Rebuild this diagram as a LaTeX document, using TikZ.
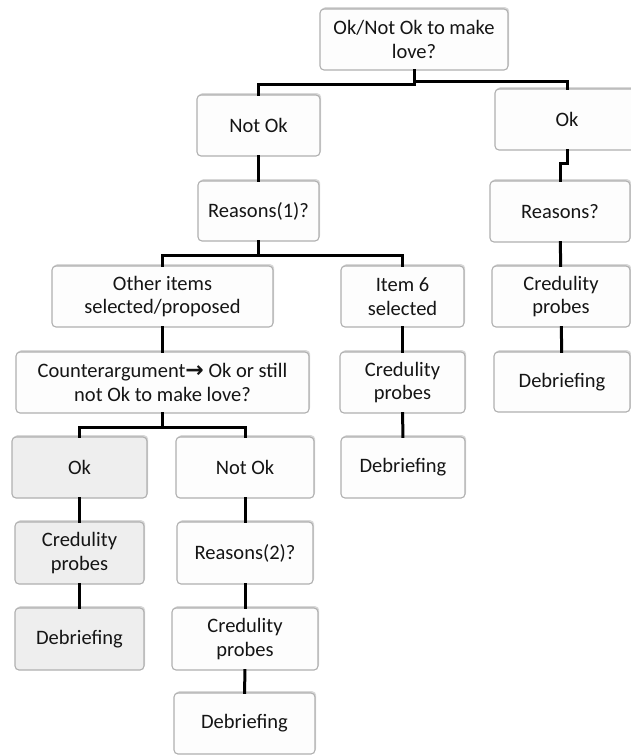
\documentclass[tikz,border=0pt]{standalone}
\usepackage{fontspec}
\setmainfont{Carlito}
\newfontfamily\arrowfont{DejaVu Sans}
\usetikzlibrary{shadows}
\definecolor{boxline}{HTML}{B0B0B0}
\definecolor{boxfill}{HTML}{FDFDFD}
\definecolor{grayfill}{HTML}{EEEEEE}
\definecolor{txt}{HTML}{151515}
\tikzset{
  box/.style={draw=boxline, line width=1.1pt, fill=boxfill, rounded corners=4pt,
    inner sep=0pt, align=center, text=txt,
    font=\fontsize{20.5pt}{23.5pt}\selectfont,
    drop shadow={opacity=0.3, shadow xshift=1.2pt, shadow yshift=1.8pt}},
  graybox/.style={box, fill=grayfill},
  link/.style={line width=3pt, black, line cap=rect}
}
\begin{document}
\begin{tikzpicture}[x=1pt,y=-1pt]
\useasboundingbox (0,0) rectangle (631,755);
\fill[white] (0,0) rectangle (631,755);
% nodes
\node[box, minimum width=188pt, minimum height=61pt] (top) at (414,39.5) {Ok/Not Ok to make\\love?};
\node[box, minimum width=123pt, minimum height=61pt] (notok1) at (258.5,125.5) {Not Ok};
\node[box, minimum width=144pt, minimum height=61pt] (ok1) at (567,119.5) {Ok};
\node[box, minimum width=121pt, minimum height=60pt] (rsn1) at (258.5,211) {Reasons(1)?};
\node[box, minimum width=140pt, minimum height=61pt] (rsnR) at (560,211.5) {Reasons?};
\node[box, minimum width=221pt, minimum height=61pt] (other) at (162.5,296.5) {Other items\\selected/proposed};
\node[box, minimum width=123pt, minimum height=61pt] (item6) at (402.5,296.5) {Item 6\\selected};
\node[box, minimum width=138pt, minimum height=61pt] (credR) at (561,296.5) {Credulity\\probes};
\node[box, minimum width=293pt, minimum height=61pt] (counter) at (162.5,382.5) {Counterargument{\arrowfont\bfseries\fontsize{22pt}{23.5pt}\selectfont →} Ok or still\\not Ok to make love?};
\node[box, minimum width=125pt, minimum height=61pt] (credM) at (402.5,382.5) {Credulity\\probes};
\node[box, minimum width=136pt, minimum height=60pt] (debR) at (562,382) {Debriefing};
\node[graybox, minimum width=135pt, minimum height=61pt] (okG) at (79.5,467.5) {Ok};
\node[box, minimum width=138pt, minimum height=61pt] (notok2) at (245,467.5) {Not Ok};
\node[box, minimum width=124pt, minimum height=61pt] (debM) at (403,467.5) {Debriefing};
\node[graybox, minimum width=129pt, minimum height=62pt] (credG) at (79.5,553) {Credulity\\probes};
\node[box, minimum width=136pt, minimum height=62pt] (rsn2) at (245,553) {Reasons(2)?};
\node[graybox, minimum width=129pt, minimum height=62pt] (debG) at (79.5,639) {Debriefing};
\node[box, minimum width=146pt, minimum height=62pt] (credB) at (245,639) {Credulity\\probes};
\node[box, minimum width=141pt, minimum height=61pt] (debB) at (244.5,723.5) {Debriefing};
% connectors
\draw[link] (top.south) -- ++(0,14) -| (notok1.north);
\draw[link] (top.south) -- ++(0,11) -| (ok1.north);
\draw[link] (notok1) -- (rsn1);
\draw[link] (ok1.south) -- ++(0,13) -| (rsnR.north);
\draw[link] (rsn1.south) -- ++(0,14) -| (other.north);
\draw[link] (rsn1.south) -- ++(0,14) -| (item6.north);
\draw[link] (rsnR) -- (credR);
\draw[link] (credR) -- (debR);
\draw[link] (other) -- (counter);
\draw[link] (counter.south) -- ++(0,14) -| (okG.north);
\draw[link] (counter.south) -- ++(0,14) -| (notok2.north);
\draw[link] (item6) -- (credM);
\draw[link] (credM) -- (debM);
\draw[link] (okG) -- (credG);
\draw[link] (credG) -- (debG);
\draw[link] (notok2) -- (rsn2);
\draw[link] (rsn2) -- (credB);
\draw[link] (credB) -- (debB);
\end{tikzpicture}
\end{document}
